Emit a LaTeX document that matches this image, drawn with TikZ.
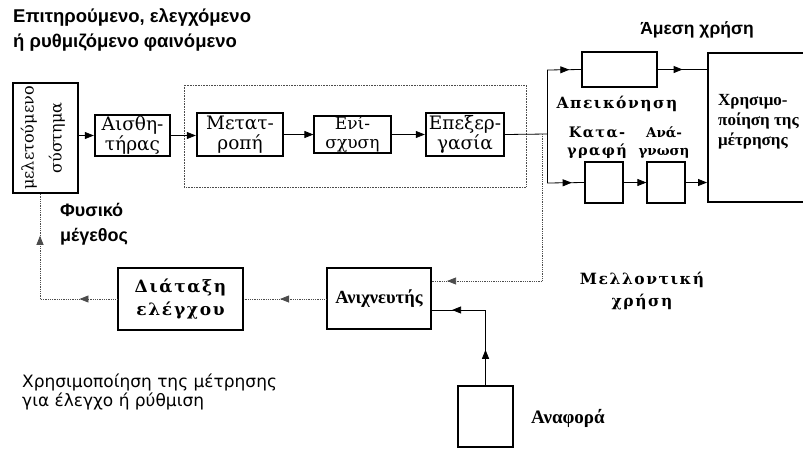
\documentclass[tikz,border=0pt]{standalone}
\usepackage{fontspec}
\setmainfont{DejaVu Serif}
\setsansfont{Liberation Sans}
\newfontfamily\spaced[LetterSpace=10]{DejaVu Serif}
\newfontfamily\timesfont{Liberation Serif}
\newfontfamily\widesans{DejaVu Sans}
\usetikzlibrary{arrows.meta, decorations.markings}

\tikzset{
  blk/.style={draw, line width=1.2pt, inner sep=0pt, align=center,
    font=\fontsize{18.5}{20}\selectfont},
  thickblk/.style={blk, line width=2.4pt},
  flow/.style={line width=0.8pt},
  fb/.style={densely dotted, line width=0.8pt, black!70},
  arrowat/.style={postaction={decorate}, decoration={markings,
    mark=at position #1 with {\arrow{>}}}},
  lbl/.style={inner sep=0pt, align=center},
}

\begin{document}
\begin{tikzpicture}[x=1pt, y=-1pt, >={Triangle[length=9pt,width=7pt]}]
\useasboundingbox (0,0) rectangle (803,448);

% phenomenon under study
\node[lbl, anchor=north west, align=left, font=\sffamily\bfseries\fontsize{18.5}{25}\selectfont]
  (title) at (13,8) {Επιτηρούμενο, ελεγχόμενο\\ή ρυθμιζόμενο φαινόμενο};

% measuring chain
\node[blk, minimum width=65pt, minimum height=110pt] (sys) at (45.5,138) {};
\node[lbl, rotate=90, font=\fontsize{16}{19}\selectfont] (syslbl) at (43,138) {μελετούμενο\\[9pt]σύστημα};
\node[thickblk, minimum width=75pt, minimum height=41pt] (sens) at (132.5,135.5) {Αισθη-\\τήρας};
\node[thickblk, minimum width=86pt, minimum height=43pt] (conv) at (240,134.5) {Μετατ-\\ροπή};
\node[blk, minimum width=77pt, minimum height=37pt, font=\fontsize{17}{19}\selectfont] (amp) at (352.5,134.5) {Ενί-\\σχυση};
\node[thickblk, minimum width=78pt, minimum height=43pt] (proc) at (465,134.5) {Επεξερ-\\γασία};
\draw[fb, line width=0.6pt] (184,85) rectangle (526,187);

\draw[flow,->] (sys.east |- sens.west) -- (sens.west);
\draw[flow,->] (sens.east) -- (sens.east -| conv.west);
\draw[flow,->] (conv) -- (amp);
\draw[flow,->] (amp) -- (proc);

% use of the result
\node[thickblk, minimum width=75pt, minimum height=35pt] (disp) at (619.5,69.5) {};
\node[blk, minimum width=38pt, minimum height=41pt] (rec) at (604,182.5) {};
\node[blk, minimum width=38pt, minimum height=41pt] (read) at (666,182.5) {};
\node[thickblk, line width=2pt, minimum width=110pt, minimum height=149pt] (use) at (763,127.5) {};

\coordinate (split) at (547,134);
\coordinate (up) at (547,70);
\coordinate (down) at (547,183);
\draw[flow] (proc.east) -- (split);
\draw[flow] (up) -- (down);
\draw[flow, arrowat=0.66] (up) -- (disp.west);
\draw[flow, arrowat=0.5] (disp.east) -- (disp.east -| use.west);
\draw[flow, arrowat=0.66] (down) -- (rec.west);
\draw[flow,->] (rec) -- (read);
\draw[flow,->] (read) -- (read -| use.west);

\node[lbl, font=\sffamily\bfseries\fontsize{17.5}{18}\selectfont] (nowlbl) at (697,30) {Άμεση χρήση};
\node[lbl, font=\spaced\bfseries\fontsize{15.5}{18}\selectfont] (displbl) at (617,104) {Απεικόνηση};
\node[lbl, font=\spaced\bfseries\fontsize{14.5}{18}\selectfont] (reclbl) at (597,143) {Κατα-\\γραφή};
\node[lbl, font=\bfseries\fontsize{13.5}{18}\selectfont] (readlbl) at (664,143) {Ανά-\\γνωση};
\node[lbl, anchor=west, align=left, font=\timesfont\bfseries\fontsize{17}{20}\selectfont] (uselbl) at (718,122) {Χρησιμο-\\ποίηση της\\μέτρησης};

% control loop
\node[blk, minimum width=104pt, minimum height=61pt, font=\timesfont\bfseries\fontsize{18.5}{20}\selectfont] (det) at (379,298.5) {Ανιχνευτής};
\node[blk, minimum width=125pt, minimum height=62pt, font=\spaced\bfseries\fontsize{17}{23}\selectfont] (ctl) at (180.5,299) {Διάταξη\\ελέγχου};
\node[thickblk, line width=2pt, minimum width=55pt, minimum height=61pt] (ref) at (485.5,416.5) {};

\coordinate (tap) at (542,134);
\coordinate (fut) at (542,281);
\coordinate (lvl) at (0,310);
\coordinate (fbcorner) at (40,299);
\draw[fb] (tap) -- (fut);
\draw[fb, arrowat=0.86] (fut) -- (fut -| det.east);
\draw[flow, arrowat=0.47] (ref.north) -- (ref.north |- lvl);
\draw[flow, arrowat=0.62] (ref.north |- lvl) -- (det.east |- lvl);
\draw[fb, arrowat=0.56] (det.west |- ctl.east) -- (ctl.east);
\draw[fb, arrowat=0.49] (ctl.west) -- (fbcorner);
\draw[fb, arrowat=0.6] (fbcorner) -- (fbcorner |- sys.south);

\node[lbl, anchor=north west, align=left, font=\sffamily\bfseries\fontsize{18}{25}\selectfont] (qty) at (60,203) {Φυσικό\\μέγεθος};
\node[lbl, font=\spaced\bfseries\fontsize{15.5}{22}\selectfont] (futlbl) at (642,291) {Μελλοντική\\χρήση};
\node[lbl, anchor=west, align=left, font=\widesans\fontsize{17}{19}\selectfont] (usectl) at (22,392) {Χρησιμοποίηση της μέτρησης\\για έλεγχο ή ρύθμιση};
\node[lbl, anchor=west, font=\timesfont\bfseries\fontsize{19}{20}\selectfont] (reflbl) at (531,418) {Αναφορά};
\end{tikzpicture}
\end{document}
